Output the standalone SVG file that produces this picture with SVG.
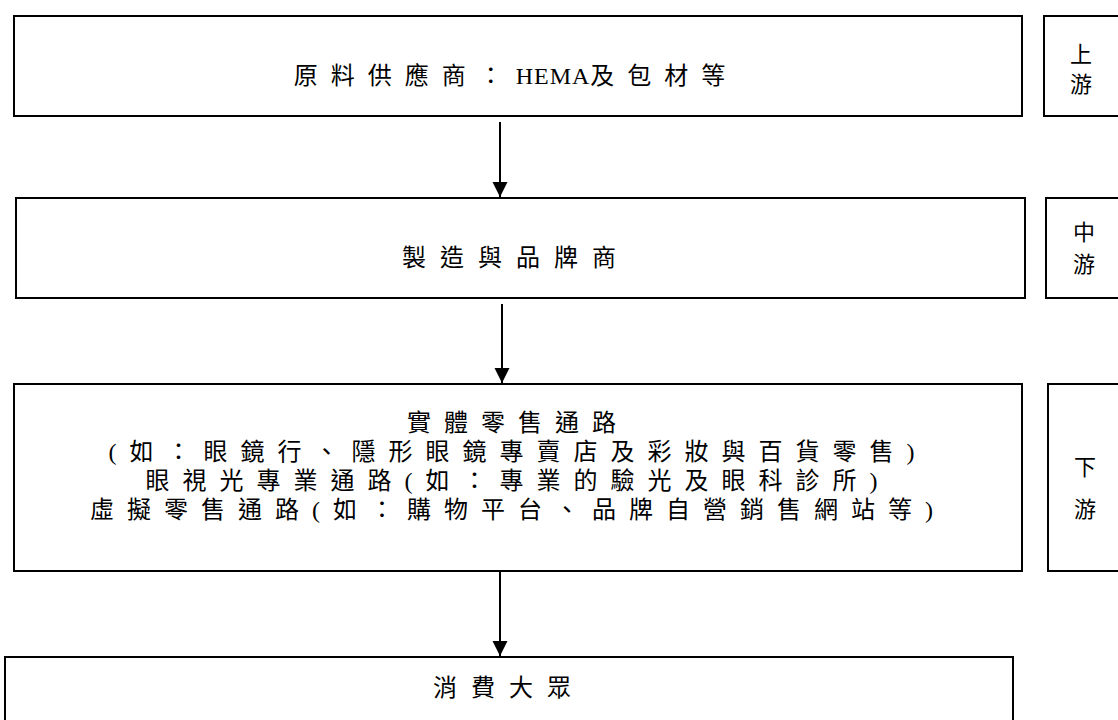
<svg xmlns="http://www.w3.org/2000/svg" width="1118" height="720" viewBox="0 0 1118 720">
<style>
.box{fill:#fff;stroke:#000;stroke-width:2}
.t{font-family:'Liberation Serif','Noto Sans CJK TC',serif;font-size:24px;fill:#000}
.c{text-anchor:middle;letter-spacing:13px}
.d{text-anchor:middle;letter-spacing:14px}
.w{text-anchor:middle;letter-spacing:13px}
.s{font-family:'Liberation Serif','Noto Sans CJK TC',serif;font-size:22px;fill:#000;text-anchor:middle}
.con{stroke:#000;stroke-width:2;fill:none}
</style>
<defs>
<marker id="ah" markerUnits="userSpaceOnUse" markerWidth="16" markerHeight="16" refX="15" refY="7.5" orient="auto">
<path d="M0,0 L15,7.5 L0,15 z" fill="#000"/>
</marker>
</defs>
<rect width="1118" height="720" fill="#fff"/>
<g id="n1">
<rect class="box" x="14" y="16" width="1008" height="100"/>
<text class="t c" x="516" y="84">原料供應商：<tspan style="letter-spacing:1px">HEMA</tspan>及包材等</text>
</g>
<g id="s1">
<rect class="box" x="1044" y="16" width="80" height="100"/>
<text class="s" x="1081" y="62">上</text>
<text class="s" x="1081" y="92">游</text>
</g>
<g id="n2">
<rect class="box" x="16" y="198" width="1009" height="100"/>
<text class="t d" x="516" y="266">製造與品牌商</text>
</g>
<g id="s2">
<rect class="box" x="1046" y="198" width="80" height="100"/>
<text class="s" x="1084" y="240">中</text>
<text class="s" x="1084" y="272">游</text>
</g>
<g id="n3">
<rect class="box" x="14" y="384" width="1008" height="187"/>
<text class="t w" x="518" y="431">實體零售通路</text>
<text class="t w" x="518" y="460">(如：眼鏡行、隱形眼鏡專賣店及彩妝與百貨零售)</text>
<text class="t w" x="518" y="489">眼視光專業通路(如：專業的驗光及眼科診所)</text>
<text class="t w" x="518" y="518">虛擬零售通路(如：購物平台、品牌自營銷售網站等)</text>
</g>
<g id="s3">
<rect class="box" x="1048" y="384" width="80" height="187"/>
<text class="s" x="1085" y="475">下</text>
<text class="s" x="1085" y="517">游</text>
</g>
<g id="n4">
<rect class="box" x="5" y="657" width="1008" height="80"/>
<text class="t d" x="509" y="696">消費大眾</text>
</g>
<g id="connectors">
<line class="con" x1="500" y1="122" x2="500" y2="197" marker-end="url(#ah)"/>
<line class="con" x1="502" y1="304" x2="502" y2="383" marker-end="url(#ah)"/>
<line class="con" x1="500" y1="572" x2="500" y2="656" marker-end="url(#ah)"/>
</g>
</svg>
